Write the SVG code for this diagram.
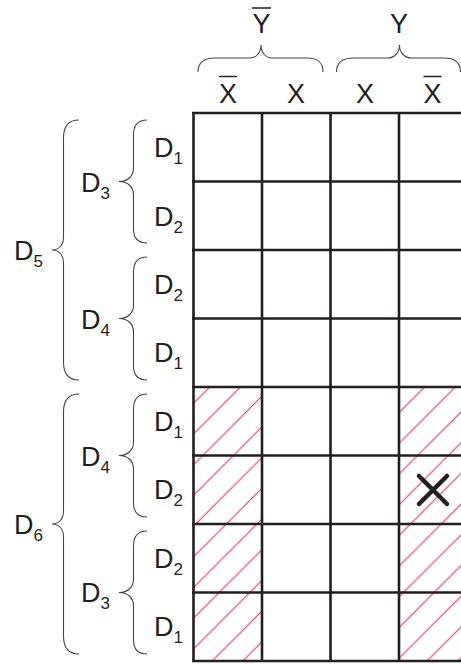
<svg xmlns="http://www.w3.org/2000/svg" width="461" height="664" viewBox="0 0 461 664">
<style>
.t{font-family:"Liberation Sans",Arial,sans-serif;font-size:27px;fill:#231f20}
.s{font-size:17px}
.m{text-anchor:middle}
.ol{stroke:#231f20;stroke-width:1.5;fill:none}
.br{stroke:#444;stroke-width:1.1;fill:none}
.g{stroke:#231f20;stroke-width:2.6;fill:none}
</style>
<defs>
<pattern id="hatch" patternUnits="userSpaceOnUse" x="13.5" y="0" width="30.7" height="30.7">
<path d="M0,30.7 L30.7,0 M-2,2 L2,-2 M28.7,32.7 L32.7,28.7" stroke="#e63a72" stroke-width="1.2"/>
</pattern>
</defs>
<rect width="461" height="664" fill="#fff"/>
<g id="hatching">
<rect x="193" y="387" width="69" height="274" fill="url(#hatch)"/>
<rect x="399" y="387" width="62" height="274" fill="url(#hatch)"/>
</g>
<g id="grid" class="g">
<path d="M192,113H461M192,181.5H461M192,250H461M192,318.5H461M192,387H461M192,455.5H461M192,524H461M192,592.5H461M192,661H461"/>
<path d="M193.5,112V662M262,112V662M330.5,112V662M399,112V662"/>
</g>
<g id="mark">
<path d="M419,476L447,504M447,476L419,504" stroke="#231f20" stroke-width="4.5" stroke-linecap="round"/>
</g>
<g id="top-labels">
<g id="Ybar"><text class="t m" x="261.5" y="33">Y</text><line class="ol" x1="252" y1="8" x2="271" y2="8"/></g>
<g id="Y"><text class="t m" x="399" y="33">Y</text></g>
<g id="c1"><text class="t m" x="228" y="103">X</text><line class="ol" x1="219" y1="76.5" x2="237" y2="76.5"/></g>
<g id="c2"><text class="t m" x="296" y="103">X</text></g>
<g id="c3"><text class="t m" x="365" y="103">X</text></g>
<g id="c4"><text class="t m" x="432.5" y="103">X</text><line class="ol" x1="423.5" y1="76.5" x2="441.5" y2="76.5"/></g>
</g>
<g id="braces" class="br">
<path d="M198,72 C198,62 204,58 215,58 L250,58 C256,58 261,53 261,45 C261,53 266,58 272,58 L307,58 C318,58 323,62 323,72"/>
<path d="M336.5,72 C336.5,62 342.5,58 353.5,58 L388,58 C394,58 399.5,53 399.5,45 C399.5,53 405,58 411,58 L444,58 C455,58 460.5,62 460.5,72"/>
<path d="M79,120 C68,120 63.5,126 63.5,138 L63.5,237 C63.5,245 59,250 52,250 C59,250 63.5,255 63.5,263 L63.5,362 C63.5,374 68,380 79,380"/>
<path d="M79,394 C68,394 63.5,400 63.5,412 L63.5,511 C63.5,519 59,524 52,524 C59,524 63.5,529 63.5,537 L63.5,636 C63.5,648 68,654 79,654"/>
<path d="M147,120 C138,120 133.5,125 133.5,135 L133.5,168 C133.5,176 128,181.5 119,181.5 C128,181.5 133.5,187 133.5,195 L133.5,229 C133.5,239 138,243 147,243"/>
<path d="M147,257 C138,257 133.5,262 133.5,272 L133.5,305 C133.5,313 128,318.5 119,318.5 C128,318.5 133.5,324 133.5,332 L133.5,366 C133.5,376 138,380 147,380"/>
<path d="M147,394 C138,394 133.5,399 133.5,409 L133.5,442 C133.5,450 128,455.5 119,455.5 C128,455.5 133.5,461 133.5,469 L133.5,503 C133.5,513 138,517 147,517"/>
<path d="M147,531 C138,531 133.5,536 133.5,546 L133.5,579 C133.5,587 128,592.5 119,592.5 C128,592.5 133.5,598 133.5,606 L133.5,640 C133.5,650 138,654 147,654"/>
</g>
<g id="row-labels">
<text class="t" x="154" y="157">D<tspan class="s" dy="7">1</tspan></text>
<text class="t" x="154" y="226">D<tspan class="s" dy="7">2</tspan></text>
<text class="t" x="154" y="294">D<tspan class="s" dy="7">2</tspan></text>
<text class="t" x="154" y="362">D<tspan class="s" dy="7">1</tspan></text>
<text class="t" x="154" y="431">D<tspan class="s" dy="7">1</tspan></text>
<text class="t" x="154" y="499">D<tspan class="s" dy="7">2</tspan></text>
<text class="t" x="154" y="568">D<tspan class="s" dy="7">2</tspan></text>
<text class="t" x="154" y="636">D<tspan class="s" dy="7">1</tspan></text>
</g>
<g id="group-labels">
<text class="t" x="81" y="192">D<tspan class="s" dy="7">3</tspan></text>
<text class="t" x="81" y="329">D<tspan class="s" dy="7">4</tspan></text>
<text class="t" x="81" y="466">D<tspan class="s" dy="7">4</tspan></text>
<text class="t" x="81" y="602">D<tspan class="s" dy="7">3</tspan></text>
<text class="t" x="14" y="260">D<tspan class="s" dy="7">5</tspan></text>
<text class="t" x="14" y="534">D<tspan class="s" dy="7">6</tspan></text>
</g>
</svg>
